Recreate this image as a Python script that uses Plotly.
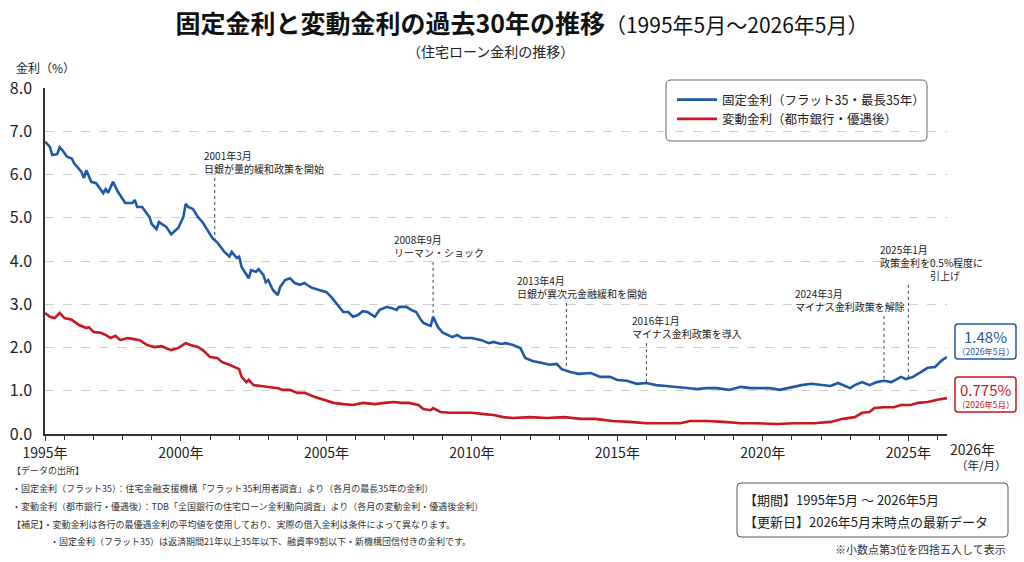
import plotly.graph_objects as go

# ---------------- data ----------------
fixed_dates = [
    "1995-05", "1995-07", "1995-08", "1995-10", "1995-11", "1995-12",
    "1996-02", "1996-04", "1996-05", "1996-08", "1996-09", "1996-10", "1996-12",
    "1997-02", "1997-05", "1997-06", "1997-07", "1997-09", "1997-11",
    "1998-01", "1998-02", "1998-05", "1998-06", "1998-07", "1998-09", "1998-12",
    "1999-01", "1999-03", "1999-04", "1999-07", "1999-09", "1999-12",
    "2000-02", "2000-03", "2000-04", "2000-06", "2000-08", "2000-10", "2000-12",
    "2001-02", "2001-04", "2001-07", "2001-09", "2001-10", "2001-12",
    "2002-01", "2002-02", "2002-04", "2002-05", "2002-06", "2002-08", "2002-09", "2002-11", "2002-12",
    "2003-01", "2003-03", "2003-05", "2003-06", "2003-08", "2003-10", "2003-12",
    "2004-02", "2004-04", "2004-05", "2004-07", "2004-10",
    "2005-01", "2005-03", "2005-05", "2005-07", "2005-08", "2005-10", "2005-12",
    "2006-02", "2006-04", "2006-06", "2006-08", "2006-09", "2006-11",
    "2007-02", "2007-04", "2007-06", "2007-07", "2007-10", "2007-12",
    "2008-02", "2008-04", "2008-05", "2008-07", "2008-08", "2008-09", "2008-11",
    "2009-01", "2009-03", "2009-05", "2009-07", "2009-09",
    "2010-01", "2010-05", "2010-08", "2010-10",
    "2011-01", "2011-03", "2011-06", "2011-09", "2011-11",
    "2012-02", "2012-06", "2012-09", "2012-12",
    "2013-02", "2013-06", "2013-09",
    "2014-02", "2014-06", "2014-10",
    "2015-01", "2015-05", "2015-09",
    "2016-01", "2016-05", "2016-09",
    "2017-01", "2017-06", "2017-10",
    "2018-02", "2018-06", "2018-11",
    "2019-04", "2019-08", "2019-12",
    "2020-04", "2020-08",
    "2021-01", "2021-05", "2021-09",
    "2022-01", "2022-05", "2022-08", "2022-11",
    "2023-01", "2023-03", "2023-06", "2023-09", "2023-12",
    "2024-03", "2024-06", "2024-10", "2024-12",
    "2025-03", "2025-06", "2025-09", "2025-12",
    "2026-03", "2026-05",
]
fixed_rates = [
    6.76, 6.64, 6.45, 6.47, 6.63, 6.57,
    6.41, 6.37, 6.26, 6.06, 5.92, 6.10, 5.83,
    5.80, 5.57, 5.66, 5.58, 5.83, 5.60,
    5.41, 5.34, 5.34, 5.41, 5.25, 5.25, 5.02,
    4.85, 4.74, 4.90, 4.79, 4.62, 4.77,
    5.02, 5.32, 5.25, 5.20, 5.02, 4.89, 4.72,
    4.53, 4.43, 4.21, 4.10, 4.21, 4.07,
    4.10, 3.86, 3.68, 3.60, 3.79, 3.75, 3.81, 3.68, 3.51,
    3.56, 3.33, 3.21, 3.40, 3.56, 3.60, 3.49,
    3.45, 3.49, 3.45, 3.38, 3.33,
    3.28, 3.17, 3.03, 2.87, 2.82, 2.82, 2.71,
    2.75, 2.84, 2.82, 2.75, 2.71, 2.87,
    2.94, 2.91, 2.87, 2.94, 2.94, 2.87,
    2.82, 2.64, 2.57, 2.52, 2.50, 2.71, 2.47,
    2.34, 2.29, 2.24, 2.29, 2.22,
    2.22, 2.17, 2.10, 2.13,
    2.08, 2.10, 2.06, 1.99, 1.76,
    1.69, 1.64, 1.60, 1.62,
    1.50, 1.43, 1.39,
    1.41, 1.32, 1.32,
    1.25, 1.23, 1.16,
    1.18, 1.13, 1.11,
    1.09, 1.06, 1.04,
    1.06, 1.06, 1.02,
    1.09, 1.06, 1.06,
    1.06, 1.02,
    1.09, 1.13, 1.16,
    1.13, 1.11, 1.18, 1.11,
    1.06, 1.13, 1.20, 1.13, 1.20,
    1.23, 1.20, 1.32, 1.27,
    1.32, 1.43, 1.53, 1.55,
    1.71, 1.78,
]

variable_dates = [
    "1995-05", "1995-07", "1995-09", "1995-11",
    "1996-01", "1996-04", "1996-07", "1996-10", "1996-11",
    "1997-01", "1997-04", "1997-06", "1997-08", "1997-10", "1997-12",
    "1998-03", "1998-05", "1998-08", "1998-11",
    "1999-02", "1999-05", "1999-07", "1999-09", "1999-12",
    "2000-03", "2000-05", "2000-08", "2000-10",
    "2001-01", "2001-04", "2001-06", "2001-09", "2001-11",
    "2002-01", "2002-02", "2002-04", "2002-05", "2002-07", "2002-10",
    "2003-01", "2003-05", "2003-07", "2003-10",
    "2004-01", "2004-04", "2004-08", "2004-12",
    "2005-04", "2005-08", "2005-12",
    "2006-04", "2006-09",
    "2007-01", "2007-05", "2007-08", "2007-11",
    "2008-03", "2008-05", "2008-08", "2008-09", "2008-12",
    "2009-04", "2009-09",
    "2010-01", "2010-06", "2010-10",
    "2011-02", "2011-06",
    "2012-01", "2012-08",
    "2013-03", "2013-10",
    "2014-04", "2014-11",
    "2015-06",
    "2016-01", "2016-08",
    "2017-03", "2017-07",
    "2018-02", "2018-09",
    "2019-04", "2019-10",
    "2020-07",
    "2021-02", "2021-10",
    "2022-05", "2022-10",
    "2023-03", "2023-06", "2023-09", "2023-11",
    "2024-03", "2024-07", "2024-10",
    "2025-02", "2025-05", "2025-09",
    "2026-01", "2026-05",
]
variable_rates = [
    2.80, 2.71, 2.68, 2.80,
    2.68, 2.64, 2.52, 2.45, 2.47,
    2.36, 2.34, 2.29, 2.22, 2.27, 2.17,
    2.22, 2.20, 2.17, 2.06,
    2.01, 2.03, 1.99, 1.94, 1.99,
    2.10, 2.06, 2.01, 1.94,
    1.78, 1.76, 1.66, 1.60, 1.55,
    1.50, 1.32, 1.20, 1.25, 1.13, 1.11,
    1.09, 1.06, 1.02, 1.02,
    0.95, 0.95, 0.86, 0.79,
    0.72, 0.69, 0.67,
    0.72, 0.69,
    0.72, 0.74, 0.72, 0.72,
    0.67, 0.58, 0.55, 0.60, 0.51,
    0.49, 0.49,
    0.49, 0.46, 0.44,
    0.39, 0.37,
    0.39, 0.37,
    0.39, 0.35,
    0.35, 0.30,
    0.28,
    0.25, 0.25,
    0.25, 0.30,
    0.30, 0.28,
    0.25, 0.25,
    0.23,
    0.25, 0.25,
    0.28, 0.35,
    0.39, 0.49, 0.51, 0.60,
    0.62, 0.62, 0.67,
    0.67, 0.72, 0.74,
    0.79, 0.83,
]

series_names = ["固定金利（フラット35・最長35年）", "変動金利（都市銀行・優遇後）"]
latest_labels = ["1.48%", "0.775%"]
latest_period = "（2026年5月）"

major_tick_dates = ["1995-05-01", "2000-01-01", "2005-01-01", "2010-01-01",
                    "2015-01-01", "2020-01-01", "2025-01-01"]
major_tick_labels = ["1995年", "2000年", "2005年", "2010年", "2015年", "2020年", "2025年"]
minor_tick_years = list(range(1996, 2027))
y_tick_values = [0, 1, 2, 3, 4, 5, 6, 7, 8]

event_dates = ["2001-03", "2008-09", "2013-04", "2016-01", "2024-03", "2025-01"]
event_texts = [
    "2001年3月<br>日銀が量的緩和政策を開始",
    "2008年9月<br>リーマン・ショック",
    "2013年4月<br>日銀が異次元金融緩和を開始",
    "2016年1月<br>マイナス金利政策を導入",
    "2024年3月<br>マイナス金利政策を解除",
    "2025年1月<br>政策金利を0.5%程度に<br>　　　　　引上げ",
]

# ---------------- style ----------------
FONT = "Noto Sans CJK JP"
BLUE = "#1f58a8"
RED = "#c8171e"
TXT = "#222222"
event_top = [5.92, 3.98, 3.03, 2.10, 2.73, 3.45]
event_xshift = [-13, -41, -51, -16, -91, -30]

W, H = 1024, 562
L, R, T, B = 45, 947, 88, 434


def PX(px):
    return (px - L) / (R - L)


def PY(py):
    return (B - py) / (B - T)


def rrect(x0, y0, x1, y1, r):
    pts = [
        f"M {PX(x0 + r)},{PY(y0)}", f"L {PX(x1 - r)},{PY(y0)}",
        f"Q {PX(x1)},{PY(y0)} {PX(x1)},{PY(y0 + r)}", f"L {PX(x1)},{PY(y1 - r)}",
        f"Q {PX(x1)},{PY(y1)} {PX(x1 - r)},{PY(y1)}", f"L {PX(x0 + r)},{PY(y1)}",
        f"Q {PX(x0)},{PY(y1)} {PX(x0)},{PY(y1 - r)}", f"L {PX(x0)},{PY(y0 + r)}",
        f"Q {PX(x0)},{PY(y0)} {PX(x0 + r)},{PY(y0)}", "Z",
    ]
    return " ".join(pts)


def month_index(s):
    y, m = s.split("-")[:2]
    return int(y) * 12 + int(m)


def fixed_at(date):
    mi = month_index(date)
    best = min(range(len(fixed_dates)), key=lambda i: abs(month_index(fixed_dates[i]) - mi))
    return fixed_rates[best]


fig = go.Figure()
fig.add_trace(go.Scatter(x=fixed_dates, y=fixed_rates, mode="lines", name=series_names[0],
                         line=dict(color=BLUE, width=2.6)))
fig.add_trace(go.Scatter(x=variable_dates, y=variable_rates, mode="lines", name=series_names[1],
                         line=dict(color=RED, width=2.6)))

shapes = []
annotations = []

# event markers
for d, txt, top, xs in zip(event_dates, event_texts, event_top, event_xshift):
    shapes.append(dict(type="line", xref="x", yref="y", x0=d, x1=d, y0=top, y1=fixed_at(d),
                       line=dict(color="#444444", width=1, dash="dot")))
    annotations.append(dict(x=d, y=top, xref="x", yref="y", text=txt, showarrow=False,
                            xanchor="left", yanchor="bottom", align="left", xshift=xs,
                            font=dict(family=FONT, size=10, color=TXT)))

# legend frame
shapes.append(dict(type="path", xref="paper", yref="paper", path=rrect(666, 80, 927, 141, 5),
                   line=dict(color="#666666", width=1), fillcolor="white", layer="below"))

# latest value boxes
shapes.append(dict(type="path", xref="paper", yref="paper", path=rrect(955, 324, 1016, 359, 3),
                   line=dict(color=BLUE, width=1.5), fillcolor="white"))
shapes.append(dict(type="path", xref="paper", yref="paper", path=rrect(955, 377, 1016, 412, 3),
                   line=dict(color=RED, width=1.5), fillcolor="white"))
for lab, col, yv, yp in [(latest_labels[0], BLUE, 336, 350.5), (latest_labels[1], RED, 389, 403.5)]:
    annotations.append(dict(x=PX(985.5), y=PY(yv), xref="paper", yref="paper", text=lab,
                            showarrow=False, xanchor="center", yanchor="middle",
                            font=dict(family=FONT, size=15, color=col)))
    annotations.append(dict(x=PX(985.5), y=PY(yp), xref="paper", yref="paper", text=latest_period,
                            showarrow=False, xanchor="center", yanchor="middle",
                            font=dict(family=FONT, size=8.5, color=col)))

# period box
shapes.append(dict(type="path", xref="paper", yref="paper", path=rrect(737, 483, 1008, 537, 4),
                   line=dict(color="#555555", width=1), fillcolor="white"))
annotations.append(dict(x=PX(742), y=PY(499), xref="paper", yref="paper",
                        text="【期間】1995年5月 ～ 2026年5月", showarrow=False,
                        xanchor="left", yanchor="middle", font=dict(family=FONT, size=13, color=TXT)))
annotations.append(dict(x=PX(742), y=PY(521), xref="paper", yref="paper",
                        text="【更新日】2026年5月末時点の最新データ", showarrow=False,
                        xanchor="left", yanchor="middle", font=dict(family=FONT, size=13, color=TXT)))
annotations.append(dict(x=PX(1008), y=PY(549), xref="paper", yref="paper",
                        text="※小数点第3位を四捨五入して表示", showarrow=False,
                        xanchor="right", yanchor="middle", font=dict(family=FONT, size=11, color="#333333")))

# notes
notes = [
    (10, 470, "【データの出所】"),
    (10, 488, "・固定金利（フラット35）：住宅金融支援機構「フラット35利用者調査」より（各月の最長35年の金利）"),
    (10, 506, "・変動金利（都市銀行・優遇後）：TDB「全国銀行の住宅ローン金利動向調査」より（各月の変動金利・優遇後金利）"),
    (10, 524, "【補足】・変動金利は各行の最優遇金利の平均値を使用しており、実際の借入金利は条件によって異なります。"),
    (48, 541, "・固定金利（フラット35）は返済期間21年以上35年以下、融資率9割以下・新機構団信付きの金利です。"),
]
for xp, yp, t in notes:
    annotations.append(dict(x=PX(xp), y=PY(yp), xref="paper", yref="paper", text=t, showarrow=False,
                            xanchor="left", yanchor="middle", font=dict(family=FONT, size=9, color="#333333")))

# axis extras
annotations.append(dict(x=PX(972), y=PY(449), xref="paper", yref="paper", text="2026年", showarrow=False,
                        xanchor="center", yanchor="middle", font=dict(family=FONT, size=14, color=TXT)))
annotations.append(dict(x=PX(1009), y=PY(465), xref="paper", yref="paper", text="（年/月）", showarrow=False,
                        xanchor="right", yanchor="middle", font=dict(family=FONT, size=11.5, color=TXT)))
annotations.append(dict(x=PX(14), y=PY(68), xref="paper", yref="paper", text="金利（%）", showarrow=False,
                        xanchor="left", yanchor="middle", font=dict(family=FONT, size=12, color=TXT)))
annotations.append(dict(x=PX(490), y=PY(51), xref="paper", yref="paper", text="（住宅ローン金利の推移）",
                        showarrow=False, xanchor="center", yanchor="middle",
                        font=dict(family=FONT, size=14, color=TXT)))

fig.update_layout(
    width=W, height=H,
    margin=dict(l=L, r=W - R, t=T, b=H - B, autoexpand=False),
    paper_bgcolor="white", plot_bgcolor="white",
    font=dict(family=FONT, color=TXT),
    title=dict(text="<b>固定金利と変動金利の過去30年の推移</b><span style='font-size:21px'>（1995年5月～2026年5月）</span>",
               x=522 / W, xanchor="center", y=1 - 24 / H, yanchor="middle",
               font=dict(family=FONT, size=25, color="#111111")),
    showlegend=True,
    legend=dict(x=PX(672), y=PY(85), xanchor="left", yanchor="top", bgcolor="rgba(0,0,0,0)",
                borderwidth=0, font=dict(family=FONT, size=12.5, color=TXT), itemwidth=40,
                tracegroupgap=4),
    shapes=shapes, annotations=annotations,
)
fig.update_xaxes(
    type="date", range=["1995-05-01", "2026-05-01"],
    tickmode="array", tickvals=major_tick_dates, ticktext=major_tick_labels,
    ticks="outside", ticklen=5, tickcolor="#333333",
    minor=dict(tickmode="array", tickvals=[f"{y}-01-01" for y in minor_tick_years],
               ticks="outside", ticklen=4, tickcolor="#333333", showgrid=False),
    showline=True, linecolor="#333333", linewidth=1.5, showgrid=False,
    tickfont=dict(family=FONT, size=14, color=TXT),
)
fig.update_yaxes(
    range=[0, 8], tickmode="array", tickvals=y_tick_values, tickformat=".1f",
    showline=True, linecolor="#333333", linewidth=1.5, ticks="",
    showgrid=True, gridcolor="#cfcfcf", griddash="dash", gridwidth=1, zeroline=False,
    tickfont=dict(family=FONT, size=16, color=TXT), ticklabelstandoff=8,
)

fig.write_html("out.html", config={"displayModeBar": False},
               post_script="document.body.style.margin='0';document.body.style.padding='0';")
